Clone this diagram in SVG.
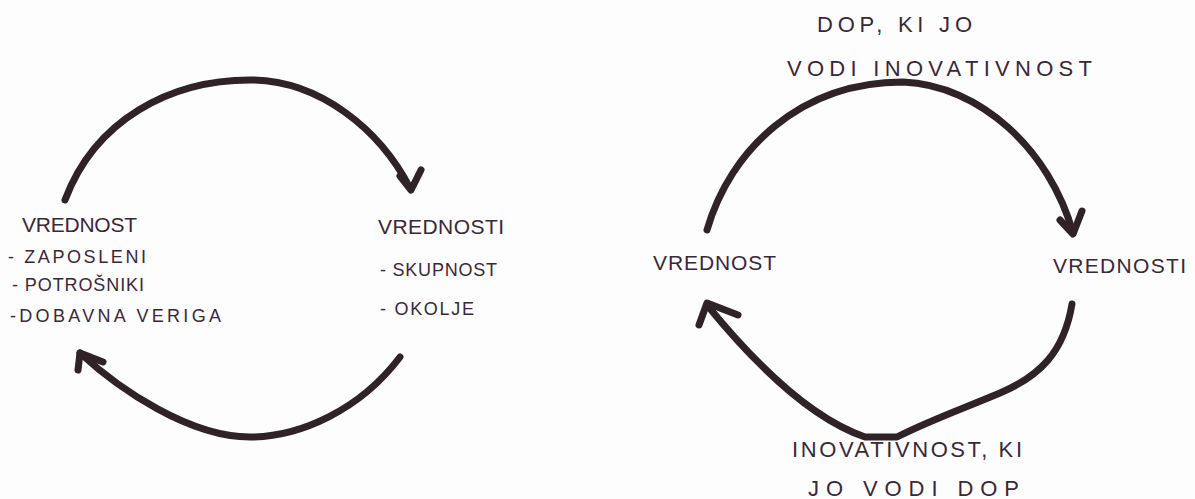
<svg xmlns="http://www.w3.org/2000/svg" width="1195" height="499" viewBox="0 0 1195 499">
<style>
.bg{fill:#fdfdfd}
.c{fill:none;stroke:#2f2327;stroke-width:7;stroke-linecap:round;stroke-linejoin:round}
.t{font-family:"Liberation Sans","DejaVu Sans",sans-serif;fill:#3a2838;letter-spacing:1px}
.big{font-size:22px}
.mid{font-size:21px}
.sm{font-size:18px}
</style>
<rect class="bg" x="0" y="0" width="1195" height="499"/>
<g id="connectors">
<path class="c" d="M65,200 C95,120 170,80 250,80 C320,80 380,130 410,188"/>
<path class="c" d="M400,176 L411,190 L421,170"/>
<path class="c" d="M400,357 C360,410 300,437 250,437 C190,437 120,390 80,353"/>
<path class="c" d="M103,362 L80,353 L78,370"/>
<path class="c" d="M707,230 C730,150 800,82 903,82 C980,85 1050,150 1073,233"/>
<path class="c" d="M1060,220 L1073,234 L1082,211"/>
<path class="c" d="M1072,304 C1064,352 1040,376 1000,393 C962,409 928,421 897,437 L865,437 C815,420 760,370 707,305"/>
<path class="c" d="M738,315 L707,303 L699,325"/>
</g>
<g id="node-left-vrednost">
<text class="t mid" x="22" y="232" textLength="116" lengthAdjust="spacing">VREDNOST</text>
<text class="t sm" x="8" y="263" textLength="139" lengthAdjust="spacing">- ZAPOSLENI</text>
<text class="t sm" x="12" y="291" textLength="133" lengthAdjust="spacing">- POTROŠNIKI</text>
<text class="t sm" x="10" y="322" textLength="212" lengthAdjust="spacing">-DOBAVNA VERIGA</text>
</g>
<g id="node-left-vrednosti">
<text class="t mid" x="378" y="234" textLength="127" lengthAdjust="spacing">VREDNOSTI</text>
<text class="t sm" x="380" y="276" textLength="118" lengthAdjust="spacing">- SKUPNOST</text>
<text class="t sm" x="380" y="315" textLength="95" lengthAdjust="spacing">- OKOLJE</text>
</g>
<g id="node-right-vrednost">
<text class="t mid" x="653" y="270" textLength="124" lengthAdjust="spacing">VREDNOST</text>
</g>
<g id="node-right-vrednosti">
<text class="t mid" x="1053" y="273" textLength="134" lengthAdjust="spacing">VREDNOSTI</text>
</g>
<g id="label-top">
<text class="t big" x="817" y="32" textLength="156" lengthAdjust="spacing">DOP, KI  JO</text>
<text class="t big" x="787" y="76" textLength="306" lengthAdjust="spacing">VODI   INOVATIVNOST</text>
</g>
<g id="label-bottom">
<text class="t big" x="792" y="457" textLength="231" lengthAdjust="spacing">INOVATIVNOST, KI</text>
<text class="t big" x="808" y="496" textLength="212" lengthAdjust="spacing">JO   VODI   DOP</text>
</g>
</svg>
